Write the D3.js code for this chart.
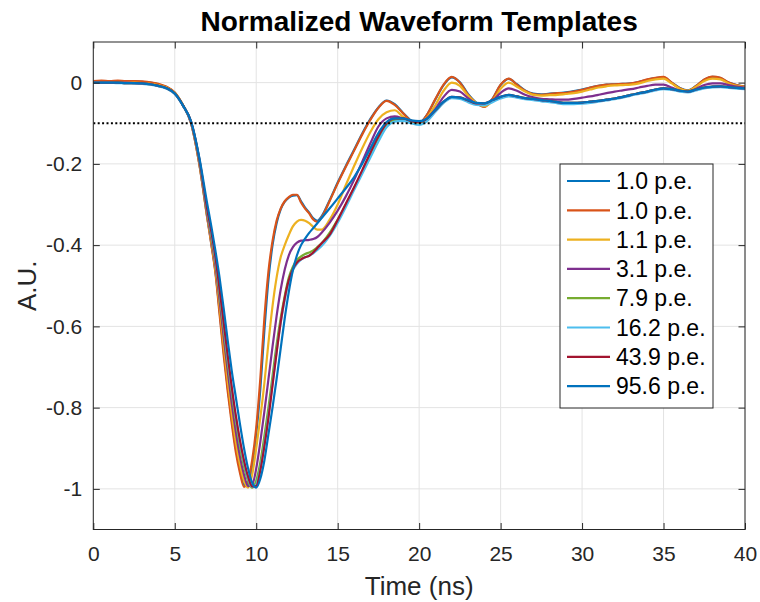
<!DOCTYPE html>
<html>
<head>
<meta charset="utf-8">
<script src="https://cdn.jsdelivr.net/npm/d3@7"></script>
<style>
  body { margin: 0; background: #fff; }
  text { font-family: "Liberation Sans", Arial, Helvetica, sans-serif; fill: #262626; }
</style>
</head>
<body>
<script>
// time grid (ns), shared by all templates
const timeNs = [0,0.5,1,1.5,2,2.5,3,3.5,4,4.5,5,5.5,6,6.5,7,
  7.25,7.5,7.75,8,8.25,8.5,8.75,9,9.25,9.5,9.75,10,10.25,10.5,10.75,11,11.25,11.5,11.75,12,12.25,12.5,12.75,13,13.25,13.5,13.75,14,
  14.5,15,15.5,16,16.5,17,17.5,18,18.5,19,19.5,20,20.5,21,21.5,22,22.5,23,23.5,24,24.5,25,25.5,26,26.5,27,27.5,28,28.5,29,29.5,30,
  30.5,31,31.5,32,32.5,33,33.5,34,34.5,35,35.5,36,36.5,37,37.5,38,38.5,39,39.5,40];

const seriesLabels = ["1.0 p.e.","1.0 p.e.","1.1 p.e.","3.1 p.e.","7.9 p.e.","16.2 p.e.","43.9 p.e.","95.6 p.e."];
const seriesColors = ["#0072BD","#D95319","#EDB120","#7E2F8E","#77AC30","#4DBEEE","#A2142F","#0072BD"];

const pe1a = [0.003,0.004,0.003,0.004,0.003,0.003,0.002,0.000,-0.004,-0.011,-0.025,-0.056,-0.100,-0.198,-0.332,
  -0.398,-0.466,-0.562,-0.660,-0.750,-0.830,-0.900,-0.952,-0.990,-0.988,-0.945,-0.865,-0.755,-0.610,-0.485,-0.400,-0.346,-0.312,-0.293,-0.283,-0.278,-0.277,-0.292,-0.308,-0.320,-0.334,-0.340,-0.330,
  -0.290,-0.246,-0.205,-0.166,-0.126,-0.090,-0.061,-0.044,-0.053,-0.074,-0.093,-0.099,-0.078,-0.041,-0.006,0.013,0.001,-0.028,-0.049,-0.058,-0.040,-0.006,0.009,-0.004,-0.019,-0.027,-0.029,-0.027,-0.026,-0.024,-0.021,
  -0.017,-0.012,-0.008,-0.005,-0.004,-0.003,-0.002,0.002,0.007,0.011,0.013,0.000,-0.013,-0.019,-0.008,0.007,0.014,0.011,0.000,-0.006,-0.010];
const pe1b = [0.004,0.005,0.004,0.005,0.004,0.004,0.003,0.001,-0.003,-0.010,-0.024,-0.055,-0.100,-0.200,-0.335,
  -0.400,-0.470,-0.570,-0.670,-0.760,-0.840,-0.910,-0.960,-0.995,-0.980,-0.930,-0.850,-0.730,-0.580,-0.465,-0.390,-0.340,-0.310,-0.292,-0.282,-0.276,-0.276,-0.295,-0.310,-0.322,-0.337,-0.343,-0.332,
  -0.292,-0.248,-0.207,-0.168,-0.128,-0.092,-0.062,-0.045,-0.055,-0.075,-0.094,-0.100,-0.078,-0.040,-0.005,0.014,0.000,-0.030,-0.050,-0.060,-0.040,-0.005,0.010,-0.005,-0.020,-0.028,-0.030,-0.028,-0.026,-0.025,-0.022,
  -0.018,-0.012,-0.008,-0.005,-0.004,-0.003,-0.002,0.002,0.008,0.012,0.014,0.000,-0.014,-0.020,-0.008,0.008,0.015,0.012,0.000,-0.006,-0.010];
const pe1p1 = [0.001,0.001,0.001,0.001,0.000,0.000,-0.001,-0.003,-0.006,-0.012,-0.025,-0.055,-0.099,-0.196,-0.332,
  -0.392,-0.460,-0.550,-0.645,-0.735,-0.815,-0.885,-0.940,-0.980,-0.997,-0.965,-0.900,-0.825,-0.740,-0.640,-0.550,-0.480,-0.430,-0.400,-0.375,-0.354,-0.342,-0.338,-0.340,-0.346,-0.355,-0.362,-0.362,
  -0.338,-0.300,-0.252,-0.206,-0.162,-0.122,-0.090,-0.073,-0.068,-0.084,-0.097,-0.100,-0.085,-0.055,-0.020,0.000,-0.008,-0.032,-0.050,-0.058,-0.045,-0.015,0.000,-0.010,-0.022,-0.030,-0.032,-0.031,-0.030,-0.028,-0.026,
  -0.022,-0.017,-0.012,-0.009,-0.007,-0.006,-0.005,-0.002,0.004,0.008,0.010,-0.002,-0.015,-0.020,-0.010,0.004,0.010,0.008,-0.002,-0.008,-0.011];
const pe3p1 = [0.000,0.000,0.000,0.000,0.000,-0.001,-0.002,-0.004,-0.008,-0.014,-0.027,-0.056,-0.098,-0.192,-0.327,
  -0.385,-0.450,-0.535,-0.625,-0.710,-0.790,-0.860,-0.920,-0.965,-0.993,-0.990,-0.950,-0.885,-0.810,-0.730,-0.650,-0.575,-0.510,-0.460,-0.425,-0.405,-0.394,-0.389,-0.388,-0.387,-0.385,-0.380,-0.370,
  -0.345,-0.315,-0.280,-0.240,-0.195,-0.150,-0.108,-0.088,-0.083,-0.088,-0.095,-0.097,-0.088,-0.065,-0.035,-0.018,-0.022,-0.038,-0.052,-0.055,-0.045,-0.025,-0.014,-0.020,-0.030,-0.036,-0.040,-0.041,-0.042,-0.042,-0.040,
  -0.037,-0.034,-0.030,-0.026,-0.022,-0.019,-0.016,-0.012,-0.008,-0.005,-0.005,-0.012,-0.020,-0.022,-0.015,-0.006,-0.002,-0.002,-0.006,-0.010,-0.012];
const pe7p9 = [0.000,0.000,0.000,0.000,-0.001,-0.001,-0.002,-0.004,-0.008,-0.014,-0.027,-0.056,-0.097,-0.189,-0.320,
  -0.378,-0.440,-0.520,-0.605,-0.690,-0.765,-0.835,-0.895,-0.945,-0.980,-0.997,-0.980,-0.935,-0.870,-0.800,-0.722,-0.645,-0.580,-0.525,-0.480,-0.453,-0.437,-0.428,-0.422,-0.418,-0.413,-0.405,-0.396,
  -0.370,-0.337,-0.300,-0.260,-0.220,-0.180,-0.140,-0.105,-0.092,-0.090,-0.095,-0.098,-0.090,-0.070,-0.048,-0.036,-0.037,-0.045,-0.052,-0.052,-0.044,-0.036,-0.031,-0.034,-0.038,-0.040,-0.043,-0.045,-0.048,-0.050,-0.050,
  -0.049,-0.047,-0.045,-0.042,-0.039,-0.035,-0.030,-0.026,-0.022,-0.017,-0.014,-0.016,-0.020,-0.022,-0.017,-0.012,-0.010,-0.009,-0.011,-0.013,-0.014];
const pe16p2 = [0.000,0.000,0.000,-0.001,-0.001,-0.002,-0.003,-0.005,-0.009,-0.015,-0.028,-0.057,-0.097,-0.187,-0.316,
  -0.372,-0.435,-0.512,-0.595,-0.680,-0.755,-0.825,-0.885,-0.935,-0.975,-0.995,-0.990,-0.950,-0.890,-0.820,-0.740,-0.662,-0.592,-0.535,-0.490,-0.462,-0.446,-0.436,-0.430,-0.426,-0.420,-0.412,-0.403,
  -0.378,-0.345,-0.306,-0.265,-0.225,-0.185,-0.145,-0.110,-0.096,-0.094,-0.100,-0.104,-0.094,-0.072,-0.050,-0.038,-0.040,-0.048,-0.055,-0.056,-0.048,-0.039,-0.034,-0.037,-0.041,-0.043,-0.046,-0.048,-0.051,-0.053,-0.053,
  -0.052,-0.050,-0.047,-0.044,-0.041,-0.037,-0.032,-0.028,-0.024,-0.019,-0.016,-0.018,-0.022,-0.024,-0.019,-0.014,-0.012,-0.011,-0.013,-0.015,-0.016];
const pe43p9 = [0.000,0.000,0.000,0.000,-0.001,-0.001,-0.002,-0.004,-0.008,-0.014,-0.027,-0.056,-0.096,-0.186,-0.313,
  -0.368,-0.430,-0.508,-0.590,-0.672,-0.750,-0.820,-0.880,-0.930,-0.970,-0.994,-0.993,-0.955,-0.895,-0.825,-0.745,-0.665,-0.590,-0.530,-0.486,-0.459,-0.443,-0.435,-0.430,-0.426,-0.418,-0.407,-0.396,
  -0.375,-0.338,-0.298,-0.258,-0.216,-0.173,-0.132,-0.100,-0.088,-0.088,-0.094,-0.097,-0.088,-0.068,-0.047,-0.035,-0.036,-0.044,-0.051,-0.051,-0.043,-0.035,-0.030,-0.034,-0.038,-0.040,-0.043,-0.045,-0.048,-0.050,-0.050,
  -0.049,-0.047,-0.045,-0.042,-0.039,-0.035,-0.030,-0.026,-0.022,-0.017,-0.014,-0.016,-0.020,-0.022,-0.017,-0.012,-0.010,-0.009,-0.011,-0.013,-0.014];
const pe95p6 = [0.000,0.000,0.000,0.000,-0.001,-0.001,-0.002,-0.004,-0.008,-0.014,-0.027,-0.056,-0.095,-0.183,-0.300,
  -0.355,-0.415,-0.480,-0.555,-0.635,-0.710,-0.775,-0.840,-0.900,-0.950,-0.985,-0.997,-0.975,-0.930,-0.865,-0.800,-0.730,-0.655,-0.580,-0.515,-0.462,-0.425,-0.400,-0.384,-0.370,-0.358,-0.346,-0.334,
  -0.310,-0.285,-0.260,-0.233,-0.200,-0.162,-0.124,-0.097,-0.088,-0.088,-0.093,-0.095,-0.088,-0.067,-0.047,-0.035,-0.037,-0.043,-0.050,-0.051,-0.043,-0.035,-0.030,-0.034,-0.038,-0.040,-0.043,-0.045,-0.048,-0.050,-0.050,
  -0.049,-0.047,-0.045,-0.042,-0.039,-0.035,-0.030,-0.026,-0.022,-0.017,-0.014,-0.016,-0.020,-0.022,-0.017,-0.012,-0.010,-0.009,-0.011,-0.013,-0.014];

const seriesValues = [pe1a, pe1b, pe1p1, pe3p1, pe7p9, pe16p2, pe43p9, pe95p6];

const xTickValues = [0,5,10,15,20,25,30,35,40];
const yTickValues = [-1,-0.8,-0.6,-0.4,-0.2,0];
const yTickLabels = ["-1","-0.8","-0.6","-0.4","-0.2","0"];
const thresholdLevel = -0.1;

const W = 760, H = 602;
const plot = { left: 93.3, right: 745, top: 42, bottom: 529.5 };

const svg = d3.select("body").append("svg").attr("width", W).attr("height", H);

const x = d3.scaleLinear().domain([0, 40]).range([plot.left, plot.right]);
const y = d3.scaleLinear().domain([-1.1, 0.1]).range([plot.bottom, plot.top]);

// grid
const grid = svg.append("g").attr("stroke", "#e3e3e3").attr("stroke-width", 1);
grid.selectAll("line.gx").data(xTickValues).enter().append("line")
  .attr("x1", d => x(d)).attr("x2", d => x(d)).attr("y1", plot.top).attr("y2", plot.bottom);
grid.selectAll("line.gy").data(yTickValues).enter().append("line")
  .attr("x1", plot.left).attr("x2", plot.right).attr("y1", d => y(d)).attr("y2", d => y(d));

// clip for the data
svg.append("clipPath").attr("id", "clip").append("rect")
  .attr("x", plot.left).attr("y", plot.top)
  .attr("width", plot.right - plot.left).attr("height", plot.bottom - plot.top);

const line = d3.line()
  .x(d => x(d[0]))
  .y(d => y(d[1]))
  .curve(d3.curveMonotoneX);

const lines = svg.append("g").attr("clip-path", "url(#clip)");
seriesValues.forEach((vals, i) => {
  lines.append("path")
    .datum(timeNs.map((t, j) => [t, vals[j]]))
    .attr("fill", "none")
    .attr("stroke", seriesColors[i])
    .attr("stroke-width", 2.2)
    .attr("stroke-linejoin", "round")
    .attr("d", line);
});

// threshold dotted line
lines.append("line")
  .attr("x1", x(0)).attr("x2", x(40))
  .attr("y1", y(thresholdLevel)).attr("y2", y(thresholdLevel))
  .attr("stroke", "#000").attr("stroke-width", 2)
  .attr("stroke-dasharray", "2,2.4");

// axes (ticks inside, on all four sides)
const tickLen = 6.5;
const fontTick = "21px";
const xAxis = svg.append("g").attr("transform", `translate(0,${plot.bottom})`)
  .call(d3.axisBottom(x).tickValues(xTickValues).tickSize(-tickLen).tickPadding(17).tickFormat(d => String(d)));
const yAxis = svg.append("g").attr("transform", `translate(${plot.left},0)`)
  .call(d3.axisLeft(y).tickValues(yTickValues).tickSize(-tickLen).tickPadding(11)
    .tickFormat((d, i) => yTickLabels[i]));
const xTop = svg.append("g").attr("transform", `translate(0,${plot.top})`)
  .call(d3.axisTop(x).tickValues(xTickValues).tickSize(-tickLen).tickFormat(""));
const yRight = svg.append("g").attr("transform", `translate(${plot.right},0)`)
  .call(d3.axisRight(y).tickValues(yTickValues).tickSize(-tickLen).tickFormat(""));

[xAxis, yAxis, xTop, yRight].forEach(g => {
  g.select(".domain").remove();
  g.selectAll(".tick line").attr("stroke", "#262626").attr("stroke-width", 1);
  g.selectAll("text").style("font-size", fontTick).attr("fill", "#262626")
    .style("font-family", '"Liberation Sans", Arial, Helvetica, sans-serif');
});

svg.append("rect")
  .attr("x", plot.left).attr("y", plot.top)
  .attr("width", plot.right - plot.left).attr("height", plot.bottom - plot.top)
  .attr("fill", "none").attr("stroke", "#262626").attr("stroke-width", 1);

// titles
svg.append("text")
  .attr("x", (plot.left + plot.right) / 2).attr("y", 31)
  .attr("text-anchor", "middle")
  .style("font-size", "28px").style("font-weight", "bold").style("fill", "#000")
  .text("Normalized Waveform Templates");
svg.append("text")
  .attr("x", (plot.left + plot.right) / 2).attr("y", 595)
  .attr("text-anchor", "middle")
  .style("font-size", "26px")
  .text("Time (ns)");
svg.append("text")
  .attr("transform", `translate(36,${(plot.top + plot.bottom) / 2}) rotate(-90)`)
  .attr("text-anchor", "middle")
  .style("font-size", "26px")
  .text("A.U.");

// legend
const legend = { x: 560, y: 164, w: 153, h: 244, row0: 181, rowStep: 29.3 };
const lg = svg.append("g");
lg.append("rect")
  .attr("x", legend.x).attr("y", legend.y).attr("width", legend.w).attr("height", legend.h)
  .attr("fill", "#fff").attr("stroke", "#262626").attr("stroke-width", 1);
seriesLabels.forEach((lab, i) => {
  const cy = legend.row0 + i * legend.rowStep;
  lg.append("line")
    .attr("x1", legend.x + 7).attr("x2", legend.x + 50)
    .attr("y1", cy).attr("y2", cy)
    .attr("stroke", seriesColors[i]).attr("stroke-width", 2.2);
  lg.append("text")
    .attr("x", legend.x + 56).attr("y", cy).attr("dy", "0.36em")
    .style("font-size", "23px").style("fill", "#000")
    .text(lab);
});
</script>
</body>
</html>
